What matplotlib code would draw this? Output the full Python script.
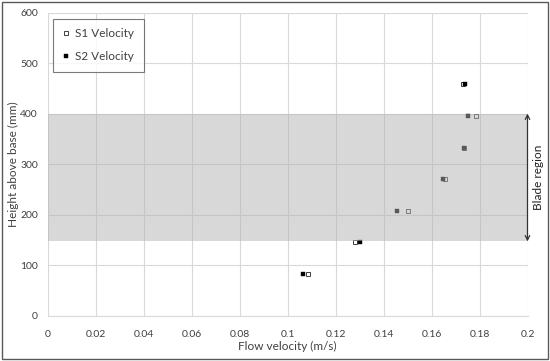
import matplotlib
matplotlib.use("Agg")
import matplotlib.pyplot as plt
from matplotlib.patches import Rectangle

plt.rcParams['font.family'] = ['Lato', 'DejaVu Sans']

heights = [458, 395, 332, 270, 207, 145, 82]
s1_velocity = [0.1733, 0.1786, 0.1736, 0.1657, 0.1500, 0.1279, 0.1083]
s2_velocity = [0.1741, 0.1753, 0.1736, 0.1646, 0.1454, 0.1303, 0.1065]
blade_bottom, blade_top = 147, 400
x_ticks = [0, 0.02, 0.04, 0.06, 0.08, 0.1, 0.12, 0.14, 0.16, 0.18, 0.2]
x_tick_labels = ['0', '0.02', '0.04', '0.06', '0.08', '0.1', '0.12', '0.14', '0.16', '0.18', '0.2']
y_ticks = [0, 100, 200, 300, 400, 500, 600]

fig = plt.figure(figsize=(5.5, 3.61), dpi=100)
ax = fig.add_axes([47.7/550, 1-315.7/361, (527.5-47.7)/550, (315.7-12.5)/361])

ax.plot(s1_velocity, heights, linestyle='none', marker='s', markersize=3.2,
        markerfacecolor='white', markeredgecolor='#404040', markeredgewidth=0.7,
        zorder=3, label='S1 Velocity')
ax.plot(s2_velocity, heights, linestyle='none', marker='s', markersize=3.3,
        markerfacecolor='black', markeredgecolor='black', markeredgewidth=0.3,
        zorder=4, label='S2 Velocity')

ax.axhspan(blade_bottom, blade_top, xmin=0, xmax=1, facecolor='#b3b3b3',
           alpha=0.5, edgecolor='none', zorder=5)

ax.set_xlim(0, 0.2)
ax.set_ylim(0, 600)
ax.set_xticks(x_ticks)
ax.set_xticklabels(x_tick_labels)
ax.set_yticks(y_ticks)
ax.grid(True, color='#d9d9d9', linewidth=0.8, zorder=0)
ax.set_axisbelow(True)
for s in ax.spines.values():
    s.set_visible(False)
ax.spines['bottom'].set_visible(True)
ax.spines['bottom'].set_color('#d9d9d9')
ax.spines['bottom'].set_linewidth(0.8)
ax.tick_params(axis='both', length=0, labelsize=7.5, colors='#404040')
ax.tick_params(axis='y', pad=7)
ax.tick_params(axis='x', pad=10)
ax.set_xlabel('Flow velocity (m/s)', fontsize=8.5, color='#404040')
ax.set_ylabel('Height above base (mm)', fontsize=8.5, color='#404040')
ax.xaxis.set_label_coords(0.5, -(340.5-315.7)/303.2, transform=ax.transAxes)
ax.yaxis.set_label_coords(-(47.7-19)/479.8, 0.5, transform=ax.transAxes)

ax.annotate('', xy=(0.2, blade_bottom), xytext=(0.2, blade_top),
            arrowprops=dict(arrowstyle='<->', color='#333333', lw=0.9,
                            shrinkA=0, shrinkB=0, mutation_scale=8),
            annotation_clip=False, zorder=6)
ax.text(0.2045, (blade_bottom + blade_top)/2, 'Blade region', rotation=90,
        ha='center', va='center', fontsize=8.5, color='#222222', clip_on=False)

leg = ax.legend(loc='upper left', bbox_to_anchor=(53/550, 1-19/361),
                bbox_transform=fig.transFigure, fontsize=8.5, frameon=True,
                fancybox=False, edgecolor='#595959', labelspacing=1.0,
                handlelength=0.6, handletextpad=0.5, borderpad=0.8,
                borderaxespad=0, numpoints=1)
leg.get_frame().set_linewidth(0.8)
for t in leg.get_texts():
    t.set_color('#404040')

fig.patches.append(Rectangle((2/550, 2/361), 546/550, 357/361, transform=fig.transFigure,
                             fill=False, edgecolor='#595959', linewidth=1.0))

fig.savefig('out.png', dpi=100)
